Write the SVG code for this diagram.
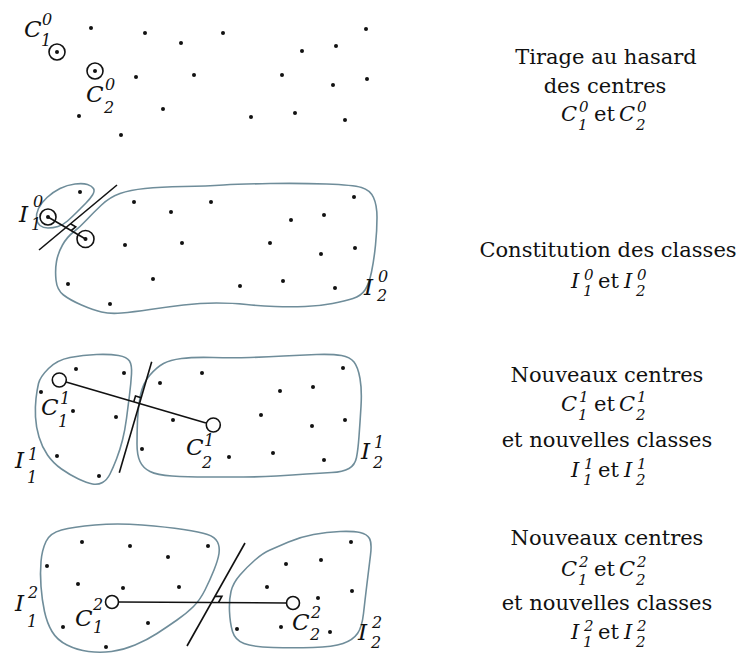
<svg xmlns="http://www.w3.org/2000/svg" width="744" height="655" viewBox="0 0 744 655">
<style>
.dot{fill:#111}
.blob{fill:none;stroke:#6f8d9a;stroke-width:1.6}
.ln{stroke:#111;stroke-width:1.6;fill:none}
.ctr{fill:none;stroke:#111;stroke-width:1.6}
.ctrw{fill:#fff;stroke:#111;stroke-width:1.6}
.t{font-family:"DejaVu Serif","Liberation Serif",serif;font-size:21px;fill:#111}
.l{font-family:"DejaVu Serif","Liberation Serif",serif;font-size:23px;fill:#111}
.i{font-style:italic}
.s{font-size:16px;font-style:italic}
.ss{font-size:15px;font-style:italic}
</style>
<rect width="744" height="655" fill="#fff"/>

<!-- Panel 1 -->
<g id="panel1">
  <g id="points1">
    <circle class="dot" cx="91" cy="28" r="2"/><circle class="dot" cx="145" cy="33" r="2"/>
    <circle class="dot" cx="181" cy="43" r="2"/><circle class="dot" cx="223" cy="33" r="2"/>
    <circle class="dot" cx="366" cy="29" r="2"/><circle class="dot" cx="302" cy="51" r="2"/>
    <circle class="dot" cx="336" cy="46" r="2"/><circle class="dot" cx="136" cy="77" r="2"/>
    <circle class="dot" cx="194" cy="75" r="2"/><circle class="dot" cx="282" cy="75" r="2"/>
    <circle class="dot" cx="333" cy="85" r="2"/><circle class="dot" cx="367" cy="79" r="2"/>
    <circle class="dot" cx="79" cy="116" r="2"/><circle class="dot" cx="163" cy="109" r="2"/>
    <circle class="dot" cx="251" cy="117" r="2"/><circle class="dot" cx="295" cy="113" r="2"/>
    <circle class="dot" cx="345" cy="120" r="2"/><circle class="dot" cx="121" cy="135" r="2"/>
  </g>
  <g id="c01">
    <circle class="ctr" cx="57" cy="52" r="8"/><circle class="dot" cx="57" cy="52" r="2"/>
    <text class="l"><tspan class="i" x="24" y="37">C</tspan><tspan class="s" x="42" y="25">0</tspan><tspan class="s" x="41" y="46">1</tspan></text>
  </g>
  <g id="c02">
    <circle class="ctr" cx="95" cy="71" r="8"/><circle class="dot" cx="95" cy="71" r="2"/>
    <text class="l"><tspan class="i" x="86" y="102">C</tspan><tspan class="s" x="105" y="90">0</tspan><tspan class="s" x="104" y="113">2</tspan></text>
  </g>
  <g id="caption1">
    <text class="t" x="606" y="64" text-anchor="middle">Tirage au hasard</text>
    <text class="t" x="605" y="93" text-anchor="middle">des centres</text>
    <text class="t"><tspan class="i" x="561" y="121">C</tspan><tspan class="ss" x="579" y="112">0</tspan><tspan class="ss" x="578" y="130">1</tspan><tspan x="594" y="121">et</tspan><tspan class="i" x="619" y="121">C</tspan><tspan class="ss" x="637" y="112">0</tspan><tspan class="ss" x="636" y="130">2</tspan></text>
  </g>
</g>

<!-- Panel 2 -->
<g id="panel2">
  <g id="I01">
    <path class="blob" d="M47,197.5 Q53,192 60,188.5 Q67,185 75,184 Q83,183 87.5,184.5 Q92,186 93.5,188.5 Q95,191 92.5,195 Q90,199 86,203 Q82,207 77,212 Q72,217 67.5,221 Q63,225 58,226.5 Q53,228 48,228 Q43,228 40,225.5 Q37,223 36.5,218.5 Q36,214 38.5,208.5 Q41,203 47,197.5 Z"/>
    <circle class="dot" cx="80" cy="192" r="2"/>
    <circle class="ctr" cx="48" cy="217" r="8"/><circle class="dot" cx="48" cy="217" r="2"/>
    <text class="l"><tspan class="i" x="19" y="222">I</tspan><tspan class="s" x="33" y="207">0</tspan><tspan class="s" x="31" y="230">1</tspan></text>
  </g>
  <g id="I02">
    <path class="blob" d="M101.5,205 Q110,197 120,193.5 Q130,190 145,188.5 Q160,187 183.5,186.5 Q207,186 223.5,185 Q240,184 270,183.5 Q300,183 326.5,184 Q353,185 361.5,187.5 Q370,190 373.5,197.5 Q377,205 377,217.5 Q377,230 375.5,245 Q374,260 371.5,272 Q369,284 365,290 Q361,296 353,298.5 Q345,301 332.5,303.5 Q320,306 305,306.5 Q290,307 275,306.5 Q260,306 246.5,304.5 Q233,303 216.5,303 Q200,303 183.5,305 Q167,307 150,309.5 Q133,312 121.5,313 Q110,314 101.5,312 Q93,310 81.5,305 Q70,300 63.5,295 Q57,290 56,280 Q55,270 56.5,261.5 Q58,253 62.5,245 Q67,237 73.5,232 Q80,227 86.5,220 Q93,213 101.5,205 Z"/>
    <circle class="dot" cx="134" cy="202" r="2"/><circle class="dot" cx="211" cy="202" r="2"/>
    <circle class="dot" cx="171" cy="212" r="2"/><circle class="dot" cx="354" cy="197" r="2"/>
    <circle class="dot" cx="291" cy="220" r="2"/><circle class="dot" cx="324" cy="215" r="2"/>
    <circle class="dot" cx="125" cy="245" r="2"/><circle class="dot" cx="182" cy="243" r="2"/>
    <circle class="dot" cx="270" cy="243" r="2"/><circle class="dot" cx="321" cy="254" r="2"/>
    <circle class="dot" cx="355" cy="248" r="2"/><circle class="dot" cx="68" cy="284" r="2"/>
    <circle class="dot" cx="153" cy="279" r="2"/><circle class="dot" cx="240" cy="286" r="2"/>
    <circle class="dot" cx="283" cy="281" r="2"/><circle class="dot" cx="335" cy="288" r="2"/>
    <circle class="dot" cx="110" cy="304" r="2"/>
    <circle class="ctr" cx="85.5" cy="239" r="8.5"/><circle class="dot" cx="85.5" cy="239" r="2"/>
    <text class="l"><tspan class="i" x="364" y="295">I</tspan><tspan class="s" x="378" y="282">0</tspan><tspan class="s" x="377" y="301">2</tspan></text>
  </g>
  <g id="caption2">
    <text class="t" x="608" y="257" text-anchor="middle">Constitution des classes</text>
    <text class="t"><tspan class="i" x="571" y="288">I</tspan><tspan class="ss" x="584" y="280">0</tspan><tspan class="ss" x="583" y="296">1</tspan><tspan x="598" y="288">et</tspan><tspan class="i" x="624" y="288">I</tspan><tspan class="ss" x="637" y="280">0</tspan><tspan class="ss" x="636" y="296">2</tspan></text>
  </g>
</g>

<!-- Panel 3 -->
<g id="panel3">
  <g id="I11">
    <path class="blob" d="M38.5,383.5 Q40,377 48.5,368.5 Q57,360 70,357.5 Q83,355 96.5,354.5 Q110,354 118.5,355.5 Q127,357 129.5,361 Q132,365 131.5,374 Q131,383 129.5,395 Q128,407 126.5,418.5 Q125,430 122.5,440 Q120,450 116.5,459 Q113,468 110,474 Q107,480 102.5,482.5 Q98,485 92.5,484 Q87,483 78.5,479 Q70,475 61.5,469 Q53,463 47.5,455 Q42,447 39,437 Q36,427 35.5,417 Q35,407 36,398.5 Q37,390 38.5,383.5 Z"/>
    <circle class="dot" cx="76" cy="369" r="2"/><circle class="dot" cx="124" cy="373" r="2"/>
    <circle class="dot" cx="41" cy="392" r="2"/><circle class="dot" cx="73" cy="411" r="2"/>
    <circle class="dot" cx="116" cy="417" r="2"/><circle class="dot" cx="57" cy="456" r="2"/>
    <circle class="dot" cx="99" cy="476" r="2"/>
    <text class="l"><tspan class="i" x="15" y="468">I</tspan><tspan class="s" x="28" y="460">1</tspan><tspan class="s" x="27" y="483">1</tspan></text>
  </g>
  <g id="I12">
    <path class="blob" d="M150,375 Q157,367 163.5,363.5 Q170,360 181.5,358.5 Q193,357 213,357.5 Q233,358 250,357.5 Q267,357 283.5,356 Q300,355 316.5,354.5 Q333,354 341.5,355.5 Q350,357 354,362 Q358,367 360,378.5 Q362,390 361,406.5 Q360,423 359,436.5 Q358,450 356.5,457.5 Q355,465 349,468.5 Q343,472 331.5,472.5 Q320,473 306.5,474 Q293,475 276.5,476 Q260,477 243.5,477 Q227,477 207,477 Q187,477 172,476 Q157,475 150,471.5 Q143,468 140,461.5 Q137,455 137,444 Q137,433 137.5,420 Q138,407 140.5,395 Q143,383 150,375 Z"/>
    <circle class="dot" cx="160" cy="383" r="2"/><circle class="dot" cx="202" cy="373" r="2"/>
    <circle class="dot" cx="343" cy="368" r="2"/><circle class="dot" cx="280" cy="391" r="2"/>
    <circle class="dot" cx="313" cy="387" r="2"/><circle class="dot" cx="173" cy="420" r="2"/>
    <circle class="dot" cx="261" cy="415" r="2"/><circle class="dot" cx="312" cy="426" r="2"/>
    <circle class="dot" cx="345" cy="420" r="2"/><circle class="dot" cx="142" cy="449" r="2"/>
    <circle class="dot" cx="229" cy="457" r="2"/><circle class="dot" cx="273" cy="453" r="2"/>
    <circle class="dot" cx="324" cy="460" r="2"/>
    <text class="l"><tspan class="i" x="361" y="459">I</tspan><tspan class="s" x="374" y="448">1</tspan><tspan class="s" x="373" y="468">2</tspan></text>
  </g>
  <g id="caption3">
    <text class="t" x="607" y="382" text-anchor="middle">Nouveaux centres</text>
    <text class="t"><tspan class="i" x="561" y="411">C</tspan><tspan class="ss" x="579" y="402">1</tspan><tspan class="ss" x="578" y="420">1</tspan><tspan x="594" y="411">et</tspan><tspan class="i" x="619" y="411">C</tspan><tspan class="ss" x="637" y="402">1</tspan><tspan class="ss" x="636" y="420">2</tspan></text>
    <text class="t" x="607" y="447" text-anchor="middle">et nouvelles classes</text>
    <text class="t"><tspan class="i" x="571" y="477">I</tspan><tspan class="ss" x="584" y="469">1</tspan><tspan class="ss" x="583" y="485">1</tspan><tspan x="598" y="477">et</tspan><tspan class="i" x="624" y="477">I</tspan><tspan class="ss" x="637" y="469">1</tspan><tspan class="ss" x="636" y="485">2</tspan></text>
  </g>
</g>

<!-- Panel 4 -->
<g id="panel4">
  <g id="I21">
    <path class="blob" d="M46,541.5 Q50,533 61.5,530 Q73,527 95,525 Q117,523 142,525 Q167,527 183.5,529.5 Q200,532 207.5,534.5 Q215,537 217.5,542 Q220,547 219,553.5 Q218,560 214,570 Q210,580 205,590 Q200,600 193.5,606.5 Q187,613 177,620 Q167,627 157,633.5 Q147,640 135,645 Q123,650 111.5,651.5 Q100,653 88.5,651.5 Q77,650 67,645 Q57,640 52,631.5 Q47,623 44.5,611.5 Q42,600 41,586.5 Q40,573 41,561.5 Q42,550 46,541.5 Z"/>
    <circle class="dot" cx="82" cy="542" r="2"/><circle class="dot" cx="130" cy="546" r="2"/>
    <circle class="dot" cx="208" cy="546" r="2"/><circle class="dot" cx="168" cy="557" r="2"/>
    <circle class="dot" cx="47" cy="566" r="2"/><circle class="dot" cx="78" cy="584" r="2"/>
    <circle class="dot" cx="123" cy="588" r="2"/><circle class="dot" cx="179" cy="587" r="2"/>
    <circle class="dot" cx="63" cy="627" r="2"/><circle class="dot" cx="148" cy="623" r="2"/>
    <circle class="dot" cx="106" cy="647" r="2"/>
    <text class="l"><tspan class="i" x="15" y="611">I</tspan><tspan class="s" x="28" y="598">2</tspan><tspan class="s" x="27" y="627">1</tspan></text>
  </g>
  <g id="I22">
    <path class="blob" d="M270,550 Q277,547 288.5,542 Q300,537 313.5,534.5 Q327,532 340,531.5 Q353,531 360,532.5 Q367,534 369.5,538.5 Q372,543 370.5,555 Q369,567 367,583.5 Q365,600 363.5,613.5 Q362,627 357.5,633.5 Q353,640 343,643.5 Q333,647 313,647.5 Q293,648 273,647.5 Q253,647 244,643.5 Q235,640 232.5,631.5 Q230,623 229.5,611.5 Q229,600 231,591.5 Q233,583 240,575 Q247,567 255,560 Q263,553 270,550 Z"/>
    <circle class="dot" cx="351" cy="542" r="2"/><circle class="dot" cx="286" cy="564" r="2"/>
    <circle class="dot" cx="321" cy="560" r="2"/><circle class="dot" cx="267" cy="587" r="2"/>
    <circle class="dot" cx="352" cy="591" r="2"/><circle class="dot" cx="318" cy="598" r="2"/>
    <circle class="dot" cx="237" cy="629" r="2"/><circle class="dot" cx="281" cy="627" r="2"/>
    <circle class="dot" cx="330" cy="632" r="2"/>
    <text class="l"><tspan class="i" x="358" y="640">I</tspan><tspan class="s" x="372" y="628">2</tspan><tspan class="s" x="371" y="648">2</tspan></text>
  </g>
  <g id="caption4">
    <text class="t" x="607" y="545" text-anchor="middle">Nouveaux centres</text>
    <text class="t"><tspan class="i" x="561" y="576">C</tspan><tspan class="ss" x="579" y="567">2</tspan><tspan class="ss" x="578" y="585">1</tspan><tspan x="594" y="576">et</tspan><tspan class="i" x="619" y="576">C</tspan><tspan class="ss" x="637" y="567">2</tspan><tspan class="ss" x="636" y="585">2</tspan></text>
    <text class="t" x="607" y="610" text-anchor="middle">et nouvelles classes</text>
    <text class="t"><tspan class="i" x="571" y="639">I</tspan><tspan class="ss" x="584" y="631">2</tspan><tspan class="ss" x="583" y="647">1</tspan><tspan x="598" y="639">et</tspan><tspan class="i" x="624" y="639">I</tspan><tspan class="ss" x="637" y="631">2</tspan><tspan class="ss" x="636" y="647">2</tspan></text>
  </g>
</g>

<!-- Connectors: center lines, bisectors, right-angle marks -->
<g id="connectors">
  <line class="ln" x1="48" y1="217" x2="85.5" y2="239"/>
  <line class="ln" x1="39" y1="250" x2="117" y2="185"/>
  <polyline class="ln" points="70.5,223.8 75.7,226.9 71.1,230.7" stroke-width="1.2"/>

  <line class="ln" x1="66" y1="382" x2="206" y2="423"/>
  <line class="ln" x1="151.7" y1="361.7" x2="119.3" y2="472.7"/>
  <polyline class="ln" points="141.2,397.7 135.5,396 133.8,401.7" stroke-width="1.2"/>

  <line class="ln" x1="119" y1="602" x2="286" y2="603"/>
  <line class="ln" x1="245" y1="543" x2="187" y2="646"/>
  <polyline class="ln" points="214.9,596.4 221.9,596.4 218.5,602.5" stroke-width="1.2"/>
</g>

<g id="centers">
  <g id="c11"><circle class="ctrw" cx="59.3" cy="380" r="7"/>
    <text class="l"><tspan class="i" x="41" y="415">C</tspan><tspan class="s" x="60" y="404">1</tspan><tspan class="s" x="58" y="427">1</tspan></text></g>
  <g id="c12"><circle class="ctrw" cx="213.3" cy="425" r="7"/>
    <text class="l"><tspan class="i" x="186" y="455">C</tspan><tspan class="s" x="204" y="446">1</tspan><tspan class="s" x="202" y="468">2</tspan></text></g>
  <g id="c21"><circle class="ctrw" cx="112" cy="602" r="6.5"/>
    <text class="l"><tspan class="i" x="75" y="626">C</tspan><tspan class="s" x="93" y="610">2</tspan><tspan class="s" x="93" y="633">1</tspan></text></g>
  <g id="c22"><circle class="ctrw" cx="293" cy="603" r="6.5"/>
    <text class="l"><tspan class="i" x="292" y="630">C</tspan><tspan class="s" x="311" y="618">2</tspan><tspan class="s" x="310" y="640">2</tspan></text></g>
</g>
</svg>
